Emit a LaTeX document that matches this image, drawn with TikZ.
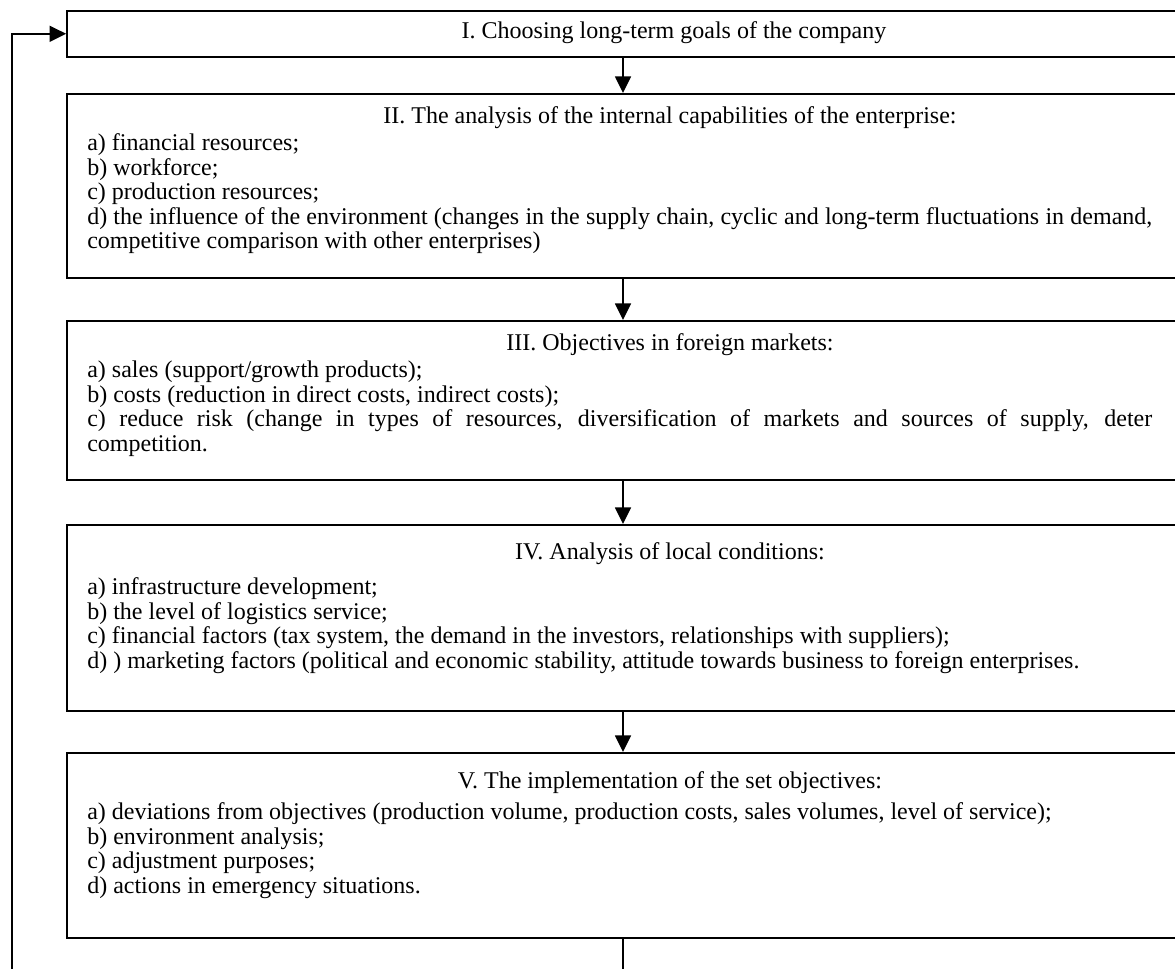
\documentclass[tikz,border=0pt]{standalone}
\usepackage{fontspec}
\setmainfont{Liberation Serif}
\usetikzlibrary{arrows.meta}
\newcommand{\jline}[1]{\makebox[798.75pt][s]{#1}}
\begin{document}
\begin{tikzpicture}[x=0.75pt,y=-0.75pt,
  box/.style={draw, line width=1.2pt, rectangle, minimum width=834pt, inner sep=0pt, anchor=north},
  ttl/.style={anchor=base, inner sep=0pt, font=\fontsize{18}{22}\selectfont},
  itm/.style={anchor=base west, inner sep=0pt, font=\fontsize{18}{22}\selectfont},
  arr/.style={-{Triangle[length=12.5pt,width=12pt]}, line width=1.2pt}]
\useasboundingbox (0,0) rectangle (1175,969);
\clip (0,0) rectangle (1175,969);
% boxes
\node[box, minimum height=34.5pt] (b1) at (623,10) {};
\node[box, minimum height=138pt] (b2) at (623,93) {};
\node[box, minimum height=119.25pt] (b3) at (623,320) {};
\node[box, minimum height=139.5pt] (b4) at (623,524) {};
\node[box, minimum height=138.75pt] (b5) at (623,752) {};
% texts
\node[ttl] (t1) at (674,39) {I. Choosing long-term goals of the company};

\node[ttl] (t2) at (670,124) {II. The analysis of the internal capabilities of the enterprise:};
\node[itm] (l2a) at (87,151) {a) financial resources;};
\node[itm] (l2b) at (87,175.5) {b) workforce;};
\node[itm] (l2c) at (87,200) {c) production resources;};
\node[itm] (l2d) at (87,224.5) {\jline{d) the influence of the environment (changes in the supply chain, cyclic and long-term fluctuations in demand,}};
\node[itm] (l2e) at (87,249) {competitive comparison with other enterprises)};

\node[ttl] (t3) at (670,351) {III. Objectives in foreign markets:};
\node[itm] (l3a) at (87,378) {a) sales (support/growth products);};
\node[itm] (l3b) at (87,402.5) {b) costs (reduction in direct costs, indirect costs);};
\node[itm] (l3c) at (87,427) {\jline{c) reduce risk (change in types of resources, diversification of markets and sources of supply, deter}};
\node[itm] (l3d) at (87,451.5) {competition.};

\node[ttl] (t4) at (670,560) {IV. Analysis of local conditions:};
\node[itm] (l4a) at (87,594.5) {a) infrastructure development;};
\node[itm] (l4b) at (87,619) {b) the level of logistics service;};
\node[itm] (l4c) at (87,643.5) {c) financial factors (tax system, the demand in the investors, relationships with suppliers);};
\node[itm] (l4d) at (87,668) {d) ) marketing factors (political and economic stability, attitude towards business to foreign enterprises.};

\node[ttl] (t5) at (670,788) {V. The implementation of the set objectives:};
\node[itm] (l5a) at (87,819.5) {a) deviations from objectives (production volume, production costs, sales volumes, level of service);};
\node[itm] (l5b) at (87,844) {b) environment analysis;};
\node[itm] (l5c) at (87,868.5) {c) adjustment purposes;};
\node[itm] (l5d) at (87,893) {d) actions in emergency situations.};
% connectors
\draw[arr] (b1.south) -- (b2.north);
\draw[arr] (b2.south) -- (b3.north);
\draw[arr] (b3.south) -- (b4.north);
\draw[arr] (b4.south) -- (b5.north);
\coordinate (c1) at (623,990);
\coordinate (c2) at (12,990);
\draw[arr] (b5.south) -- (c1) -- (c2) |- (b1.west);
\end{tikzpicture}
\end{document}
